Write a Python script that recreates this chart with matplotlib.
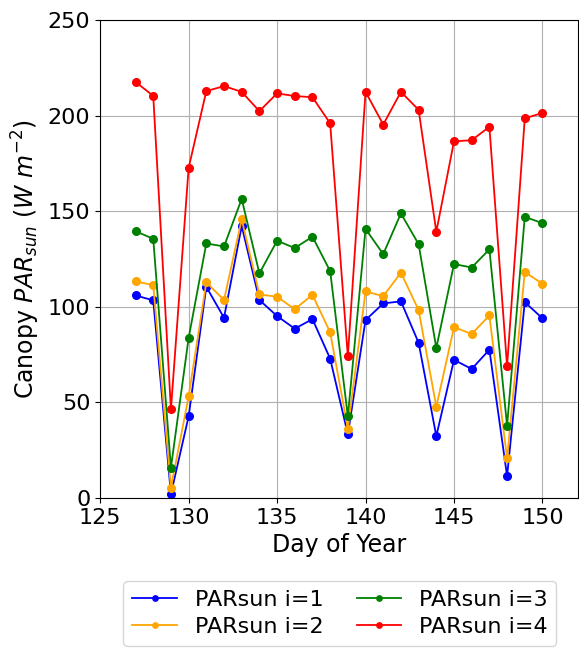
import numpy as np
import matplotlib
matplotlib.use("Agg")
import matplotlib.pyplot as plt

# day of year
doy = np.arange(127, 151)

# canopy PAR of sunlit leaves per layer (W m-2)
par_sun_1 = [106.0, 103.4, 2.1, 42.7, 110.5, 94.3, 142.3, 103.6, 95.2, 88.6, 93.6, 72.9,
             33.3, 93.1, 101.8, 102.9, 81.2, 32.4, 72.3, 67.5, 77.6, 11.5, 102.5, 94.0]
par_sun_2 = [113.3, 111.4, 5.4, 53.2, 112.8, 103.6, 145.8, 106.5, 105.3, 98.8, 106.3, 86.7,
             36.3, 108.1, 105.6, 117.9, 98.3, 47.8, 89.4, 85.8, 95.5, 20.7, 118.2, 112.1]
par_sun_3 = [139.6, 135.6, 15.9, 83.7, 133.2, 131.6, 156.5, 117.5, 134.6, 130.8, 136.7, 118.7,
             42.7, 140.8, 127.6, 148.9, 132.8, 78.5, 122.4, 120.6, 130.1, 37.8, 147.1, 143.8]
par_sun_4 = [217.7, 210.4, 46.4, 172.7, 212.9, 215.5, 212.5, 202.4, 211.7, 210.3, 209.7, 196.0,
             74.1, 212.5, 195.4, 212.5, 203.1, 139.3, 186.6, 187.2, 194.2, 68.9, 198.6, 201.5]

series = [par_sun_1, par_sun_2, par_sun_3, par_sun_4]
labels = ["PARsun i=1", "PARsun i=2", "PARsun i=3", "PARsun i=4"]
colors = ["blue", "orange", "green", "red"]

fig = plt.figure(figsize=(5.79, 6.51), dpi=100)
ax = fig.add_axes([0.173, 0.235, 0.825, 0.734])

for vals, lab, col in zip(series, labels, colors):
    ax.plot(doy, vals, "-o", color=col, label=lab, markersize=5.5, linewidth=1.3)

ax.set_xlim(125, 152)
ax.set_ylim(0, 250)
ax.set_xticks([125, 130, 135, 140, 145, 150])
ax.set_yticks([0, 50, 100, 150, 200, 250])
ax.tick_params(labelsize=16)
ax.grid(True, color="#b0b0b0", linewidth=0.8)
ax.set_xlabel("Day of Year", fontsize=17)
ax.set_ylabel(r"Canopy $PAR_{sun}$ $(W\ m^{-2})$", fontsize=17)

fig.legend(loc="upper center", bbox_to_anchor=(0.587, 0.124), ncol=2,
           fontsize=16, markerscale=0.7, columnspacing=1.5, labelspacing=0.3)

fig.savefig("out.png", dpi=100)
